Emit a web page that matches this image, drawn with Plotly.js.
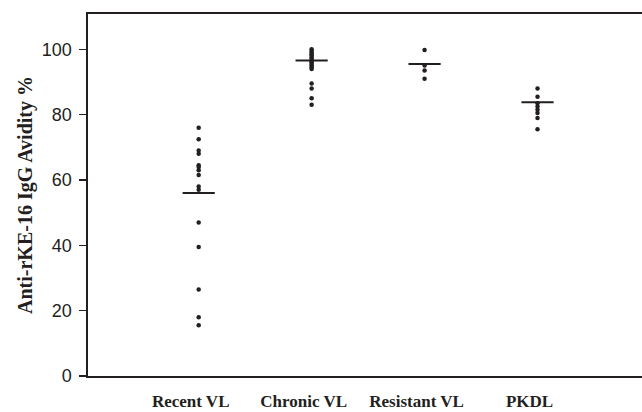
<!DOCTYPE html>
<html><head><meta charset="utf-8">
<script src="https://cdn.plot.ly/plotly-3.0.1.min.js"></script>
<style>html,body{margin:0;padding:0;overflow:hidden;background:#fff;width:642px;height:412px}</style>
</head><body>
<div id="chart" style="width:700px;height:412px"></div>
<script>
const categories = ['Recent VL', 'Chronic VL', 'Resistant VL', 'PKDL'];
const recentVL = [76, 72.5, 69, 68, 64.5, 64, 63, 61.5, 58, 57, 47, 39.5, 26.5, 18, 15.5];
const chronicVL = [100, 99.5, 99, 98.5, 98, 97.5, 97, 96.5, 96, 95.5, 95, 94.5, 94, 89.5, 88, 85, 83];
const resistantVL = [99.8, 95, 93.5, 91];
const pkdl = [88, 85.5, 83.5, 82.5, 81.5, 80.5, 79, 75.5];
const groupMeans = [56, 96.6, 95.5, 83.8];
const yTicks = [0, 20, 40, 60, 80, 100];

const groups = [recentVL, chronicVL, resistantVL, pkdl];
const ink = '#231f20';
const traces = groups.map((vals, i) => ({
  type: 'scatter', mode: 'markers',
  x: vals.map(() => categories[i]), y: vals,
  marker: {color: ink, size: 4.5},
  hoverinfo: 'y', showlegend: false
}));
traces.push({
  type: 'scatter', mode: 'markers',
  x: categories, y: groupMeans,
  marker: {symbol: 'line-ew-open', size: 23, color: ink, line: {color: ink, width: 2}},
  showlegend: false
});

const layout = {
  width: 700, height: 412,
  margin: {l: 88, r: 10, t: 14, b: 36},
  paper_bgcolor: '#fff', plot_bgcolor: '#fff',
  showlegend: false,
  xaxis: {
    type: 'category', categoryorder: 'array', categoryarray: categories,
    range: [-0.98, 4.35],
    showline: true, linecolor: ink, linewidth: 1.6, mirror: true,
    showgrid: false, zeroline: false, ticks: '',
    ticklabelshift: -8, ticklabelstandoff: 9,
    tickfont: {family: 'Liberation Serif', size: 17, color: ink, weight: 'bold'}
  },
  yaxis: {
    range: [0, 110.8], tickvals: yTicks,
    showline: true, linecolor: ink, linewidth: 1.6,
    showgrid: false, zeroline: false,
    ticks: 'outside', ticklen: 7, tickwidth: 1.3, tickcolor: ink,
    ticklabelstandoff: 4,
    tickfont: {family: 'Liberation Sans', size: 18, color: ink},
    title: {text: 'Anti-rKE-16 IgG Avidity %', standoff: 4,
      font: {family: 'Liberation Serif', size: 20, color: ink, weight: 'bold'}}
  }
};
Plotly.newPlot('chart', traces, layout, {displayModeBar: false, staticPlot: true});
</script>
</body></html>
